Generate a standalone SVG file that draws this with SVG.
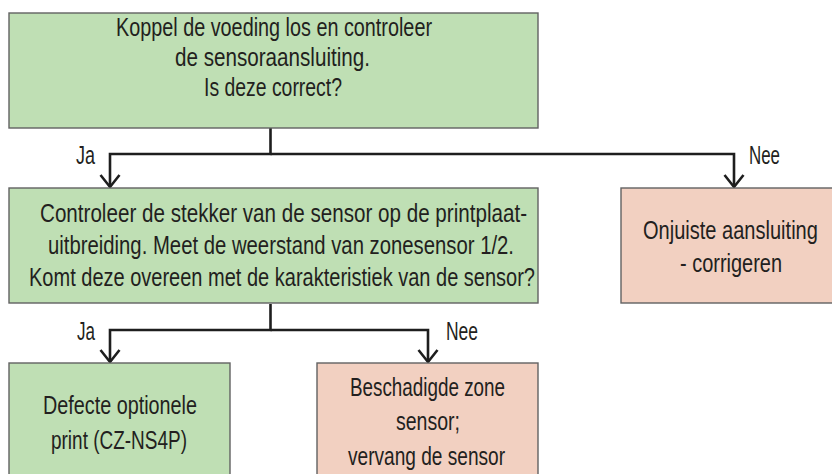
<svg xmlns="http://www.w3.org/2000/svg" width="832" height="474" viewBox="0 0 832 474">
  <style>
    .box { stroke: #626262; stroke-width: 1.4; }
    .ok { fill: #bfdfb4; }
    .bad { fill: #f2d0c1; }
    .t { font-family: "Liberation Sans", Arial, sans-serif; font-size: 26px; fill: #231f20; }
    .lbl { font-family: "Liberation Sans", Arial, sans-serif; font-size: 26px; fill: #231f20; }
    .conn { fill: none; stroke: #1e1e1e; stroke-width: 2.6; stroke-linejoin: miter; }
  </style>
  <defs>
    <marker id="arrow" markerUnits="userSpaceOnUse" viewBox="-14 -12 16 24" refX="0" refY="0" markerWidth="16" markerHeight="24" orient="auto" overflow="visible">
      <path d="M -12 -9.5 L 0 0 L -12 9.5" fill="none" stroke="#1e1e1e" stroke-width="2.6"/>
    </marker>
  </defs>
  <rect width="832" height="474" fill="#ffffff"/>

  <g id="connectors">
    <path class="conn" d="M270.5,128 V154 H110 V187" marker-end="url(#arrow)"/>
    <path class="conn" d="M270.5,154 H734 V187" marker-end="url(#arrow)"/>
    <path class="conn" d="M270.5,304 V330 H110 V362" marker-end="url(#arrow)"/>
    <path class="conn" d="M270.5,330 H428 V362" marker-end="url(#arrow)"/>
    <text class="lbl" x="76" y="164" textLength="19" lengthAdjust="spacingAndGlyphs">Ja</text>
    <text class="lbl" x="749" y="164" textLength="31" lengthAdjust="spacingAndGlyphs">Nee</text>
    <text class="lbl" x="77" y="340" textLength="18" lengthAdjust="spacingAndGlyphs">Ja</text>
    <text class="lbl" x="446" y="340" textLength="32" lengthAdjust="spacingAndGlyphs">Nee</text>
  </g>

  <g id="node-check-connection">
    <rect class="box ok" x="9" y="13" width="529" height="115"/>
    <text class="t" x="116" y="36" textLength="316" lengthAdjust="spacingAndGlyphs">Koppel de voeding los en controleer</text>
    <text class="t" x="175" y="66" textLength="195" lengthAdjust="spacingAndGlyphs">de sensoraansluiting.</text>
    <text class="t" x="204" y="96" textLength="138" lengthAdjust="spacingAndGlyphs">Is deze correct?</text>
  </g>

  <g id="node-check-plug">
    <rect class="box ok" x="9" y="188" width="529" height="115"/>
    <text class="t" x="40" y="222" textLength="487" lengthAdjust="spacingAndGlyphs">Controleer de stekker van de sensor op de printplaat-</text>
    <text class="t" x="48" y="254" textLength="466" lengthAdjust="spacingAndGlyphs">uitbreiding. Meet de weerstand van zonesensor 1/2.</text>
    <text class="t" x="29" y="286" textLength="506" lengthAdjust="spacingAndGlyphs">Komt deze overeen met de karakteristiek van de sensor?</text>
  </g>

  <g id="node-wrong-connection">
    <rect class="box bad" x="621" y="188" width="212" height="115"/>
    <text class="t" transform="translate(643,239) scale(0.771,1)">Onjuiste aansluiting</text>
    <text class="t" x="680" y="272" textLength="102" lengthAdjust="spacingAndGlyphs">- corrigeren</text>
  </g>

  <g id="node-defect-print">
    <rect class="box ok" x="9" y="363" width="221" height="120"/>
    <text class="t" x="43" y="414" textLength="154" lengthAdjust="spacingAndGlyphs">Defecte optionele</text>
    <text class="t" x="51" y="449" textLength="136" lengthAdjust="spacingAndGlyphs">print (CZ-NS4P)</text>
  </g>

  <g id="node-damaged-sensor">
    <rect class="box bad" x="317" y="363" width="221" height="120"/>
    <text class="t" x="350" y="396" textLength="155" lengthAdjust="spacingAndGlyphs">Beschadigde zone</text>
    <text class="t" x="396" y="430" textLength="64" lengthAdjust="spacingAndGlyphs">sensor;</text>
    <text class="t" x="348" y="465" textLength="157" lengthAdjust="spacingAndGlyphs">vervang de sensor</text>
  </g>
</svg>
